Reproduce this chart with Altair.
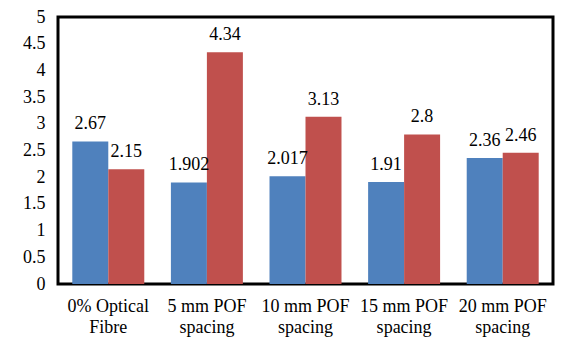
import altair as alt
import pandas as pd

categories = ["0% Optical|Fibre", "5 mm POF|spacing", "10 mm POF|spacing", "15 mm POF|spacing", "20 mm POF|spacing"]
series = ["A", "B"]
values_a = [2.67, 1.902, 2.017, 1.91, 2.36]
values_b = [2.15, 4.34, 3.13, 2.8, 2.46]
labels_a = ["2.67", "1.902", "2.017", "1.91", "2.36"]
labels_b = ["2.15", "4.34", "3.13", "2.8", "2.46"]
y_ticks = [0, 0.5, 1, 1.5, 2, 2.5, 3, 3.5, 4, 4.5, 5]

rows = []
for c, va, vb, la, lb in zip(categories, values_a, values_b, labels_a, labels_b):
    rows.append({"cat": c, "series": "A", "value": va, "label": la})
    rows.append({"cat": c, "series": "B", "value": vb, "label": lb})
df = pd.DataFrame(rows)

FONT = "Times New Roman"

x = alt.X("cat:N", sort=categories, title=None,
          scale=alt.Scale(paddingInner=0.27, paddingOuter=0.145),
          axis=alt.Axis(labelAngle=0, labelExpr="split(datum.label, '|')",
                        labelFont=FONT, labelFontSize=18, labelColor="black",
                        labelLineHeight=21, labelPadding=13, domain=False, ticks=False,
                        labelBaseline="top"))
y = alt.Y("value:Q", title=None,
          scale=alt.Scale(domain=[0, 5], nice=False),
          axis=alt.Axis(values=y_ticks, format=".1~f", labelOverlap=False, labelFlush=False,
                        labelFont=FONT, labelFontSize=18, labelColor="black",
                        labelPadding=13, domain=False, ticks=False, grid=False))
color = alt.Color("series:N", scale=alt.Scale(domain=series, range=["#4F81BD", "#C0504D"]), legend=None)

base = alt.Chart(df).encode(x=x, y=y, xOffset=alt.XOffset("series:N", sort=series))

bars = base.mark_bar().encode(color=color)
text = base.mark_text(dy=-17, font=FONT, fontSize=18, color="black", baseline="middle").encode(text="label:N")

chart = (bars + text).properties(
    width=495, height=267,
    autosize=alt.AutoSizeParams(type="none"),
    padding={"left": 58, "top": 17, "right": 9, "bottom": 56},
).configure(
    font=FONT,
    view=alt.ViewConfig(stroke="black", strokeWidth=3),
)

chart.save("out.html", embed_options={"renderer": "svg", "actions": False})
